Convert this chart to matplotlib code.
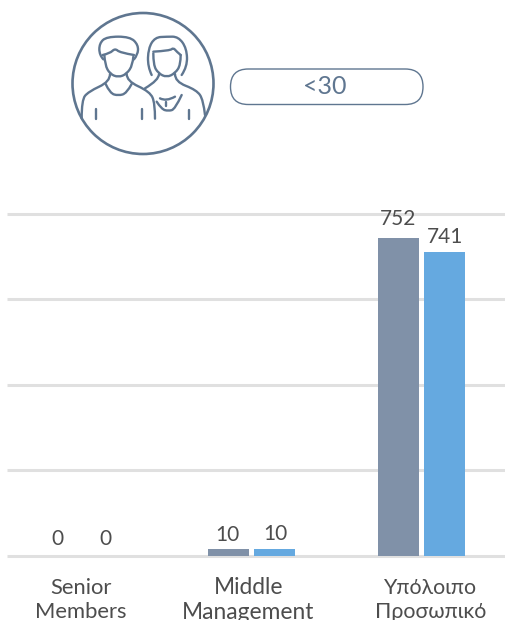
#!/usr/bin/env python3
"""Grouped bars by staff level for the <30 age band, with the people badge on top."""
import matplotlib
matplotlib.use("Agg")
import matplotlib.pyplot as plt
from matplotlib.patches import Circle, FancyBboxPatch, PathPatch
from matplotlib.path import Path
import numpy as np

plt.rcParams["font.family"] = ["Lato", "DejaVu Sans"]

W, H = 505, 620

categories = ["Senior\nMembers", "Middle\nManagement", "Υπόλοιπο\nΠροσωπικό"]
age_band = "<30"
# printed labels
labels_a = [0, 10, 752]
labels_b = [0, 10, 741]
# bar heights as drawn against the gridlines (the source is not quite to scale)
heights_a = [0, 16, 744]
heights_b = [0, 16, 711]
grid_ticks = [0, 200, 400, 600, 800]

GRID = "#e0e0e0"
COL_A = "#8091a8"
COL_B = "#65a9e0"
INK = "#4d4d4d"
ICON = "#5f7690"

fig = plt.figure(figsize=(W / 100, H / 100), dpi=100, facecolor="white")

# ---- bars ----
ax = fig.add_axes([7 / W, (H - 555.5) / H, 498 / W, 341.5 / H])
ax.set_xlim((7 - 82) / 170, (505 - 82) / 170)
ax.set_ylim(0, 800)
ax.axis("off")
for t in grid_ticks:
    ax.axhline(t, color=GRID, lw=2.2, zorder=1, clip_on=False, solid_capstyle="butt")

x = np.arange(len(categories))
off, bw = 23 / 170, 41 / 170
ax.bar(x - off, heights_a, bw, color=COL_A, zorder=2)
ax.bar(x + off, heights_b, bw, color=COL_B, zorder=2)

# value labels, gap in points above the bar
gaps_a = [5, 3, 6.5]
gaps_b = [5, 3.5, 3.5]
for i in x:
    ax.annotate(str(labels_a[i]), (i - off, heights_a[i]), xytext=(-1, gaps_a[i]),
                textcoords="offset points", ha="center", va="bottom",
                fontsize=15, color=INK, annotation_clip=False)
    ax.annotate(str(labels_b[i]), (i + off, heights_b[i]), xytext=(0, gaps_b[i]),
                textcoords="offset points", ha="center", va="bottom",
                fontsize=15, color=INK, annotation_clip=False)

# ---- overlay in pixel coordinates: category names and icon ----
ov = fig.add_axes([0, 0, 1, 1], facecolor="none")
ov.set_xlim(0, W)
ov.set_ylim(H, 0)
ov.axis("off")

for cx, name, fs in zip([80.5, 248.5, 430.5], categories, [15.8, 16.4, 15.4]):
    ov.text(cx, 600, name, ha="center", va="center", fontsize=fs, color=INK,
            linespacing=1.25, multialignment="center")

# pill with the age band
ov.add_patch(FancyBboxPatch((230.5, 69), 192.5, 35.5, boxstyle="round,pad=0,rounding_size=17.7",
                            fc="white", ec=ICON, lw=1.0))
ov.text(325, 87, age_band, ha="center", va="center", fontsize=18, color=ICON)

ov.add_patch(Circle((143, 83.5), 70.5, fc="white", ec=ICON, lw=1.9))


def stroke(pts, lw=1.7):
    """Smooth line through zoomed-crop coordinates (x3, origin at 60,0)."""
    p = np.array(pts, dtype=float) / 3 + [60, 0]
    verts, codes = [p[0]], [Path.MOVETO]
    for a, b in zip(p[1:-2], p[2:-1]):
        verts += [a, (a + b) / 2]
        codes += [Path.CURVE3, Path.CURVE3]
    verts += [p[-2], p[-1]] if len(p) > 2 else [p[-1]]
    codes += [Path.CURVE3, Path.CURVE3] if len(p) > 2 else [Path.LINETO]
    ov.add_patch(PathPatch(Path(verts, codes), fc="none", ec=ICON, lw=lw,
                           capstyle="round", joinstyle="round"))


# man
stroke([(130, 178), (118, 165), (118, 130), (140, 110), (210, 110), (235, 135), (233, 165), (222, 178)])
stroke([(128, 165), (150, 160), (165, 145), (180, 158), (222, 165)])
stroke([(133, 165), (135, 195), (150, 222), (175, 232), (200, 222), (218, 195), (220, 170)])
stroke([(150, 222), (150, 245), (85, 275), (65, 300), (65, 355)])
stroke([(137, 252), (150, 280), (175, 287), (200, 280), (215, 252)])
stroke([(200, 222), (200, 243), (270, 275), (285, 310), (285, 356)])
stroke([(107, 328), (107, 358)])
stroke([(245, 328), (245, 358)])
# woman
stroke([(275, 225), (263, 200), (265, 145), (285, 112), (320, 110), (355, 110), (380, 145), (382, 200), (365, 225)])
stroke([(280, 160), (280, 195), (295, 220), (320, 232), (345, 220), (362, 195), (362, 165)])
stroke([(280, 155), (330, 152), (340, 143), (350, 155), (362, 165)])
stroke([(297, 222), (297, 240), (255, 265)])
stroke([(345, 222), (345, 245), (410, 270), (430, 300), (435, 345)])
stroke([(290, 305), (305, 328), (325, 333), (345, 328), (365, 285)])
stroke([(300, 295), (318, 305), (345, 290)])
stroke([(318, 305), (318, 318)])
stroke([(388, 330), (388, 358)])

fig.savefig("out.png", dpi=100)
